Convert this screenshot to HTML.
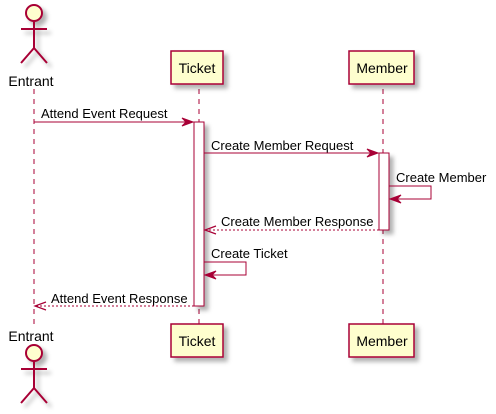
<!DOCTYPE html>
<html><head><meta charset="utf-8"><style>body{margin:0;background:#fff}svg{display:block}</style></head><body>
<svg width="496" height="414" viewBox="0 0 496 414" xmlns="http://www.w3.org/2000/svg" font-family="Liberation Sans, sans-serif" font-size="13">
<defs><filter id="sh" x="-20%" y="-20%" width="150%" height="150%"><feDropShadow dx="4" dy="4" stdDeviation="2" flood-color="#000" flood-opacity="0.3"/></filter></defs>
<g stroke="#A80036" stroke-width="1" stroke-dasharray="5,5">
<line x1="34" y1="89" x2="34" y2="324"/>
<line x1="199" y1="89" x2="199" y2="324"/>
<line x1="383" y1="89" x2="383" y2="324"/>
</g>
<g fill="#FEFECE" stroke="#A80036" stroke-width="1.5" filter="url(#sh)">
<rect x="171" y="51" width="52" height="33"/>
<rect x="349" y="51" width="65" height="33"/>
<rect x="171" y="324" width="52" height="33"/>
<rect x="349" y="324" width="65" height="33"/>
</g>
<g fill="#000" text-anchor="middle" font-size="14">
<text x="197" y="73">Ticket</text><text x="382" y="73">Member</text>
<text x="197" y="346">Ticket</text><text x="382" y="346">Member</text>
<text x="31" y="86">Entrant</text><text x="31" y="341">Entrant</text>
</g>
<g stroke="#A80036" stroke-width="2" fill="none" filter="url(#sh)">
<circle cx="34" cy="13" r="8" fill="#FEFECE"/>
<path d="M34 21V48M21 29H47M21 63L34 48L47 63"/>
<circle cx="34" cy="353" r="8" fill="#FEFECE"/>
<path d="M34 361V388M21 369H47M21 403L34 388L47 403"/>
</g>
<g fill="#fff" stroke="#A80036" stroke-width="1" filter="url(#sh)">
<rect x="194" y="122" width="10" height="184"/>
<rect x="379" y="153" width="10" height="77"/>
</g>
<g stroke="#A80036" stroke-width="1" fill="none">
<line x1="34" y1="122" x2="192" y2="122"/>
<line x1="204" y1="153" x2="377" y2="153"/>
<path d="M389 186H431V199H391"/>
<line x1="379" y1="230" x2="206" y2="230" stroke-dasharray="2,2"/>
<path d="M204 262H246V275H206"/>
<line x1="194" y1="306" x2="36" y2="306" stroke-dasharray="2,2"/>
</g>
<g fill="#A80036" stroke="#A80036">
<path d="M193 122L182 118L186 122L182 126Z"/>
<path d="M378 153L367 149L371 153L367 157Z"/>
<path d="M390 199L401 195L397 199L401 203Z"/>
<path d="M205 275L216 271L212 275L216 279Z"/>
</g>
<g stroke="#A80036" fill="none" stroke-width="1.2">
<path d="M216 226L205 230L216 234"/>
<path d="M46 302L35 306L46 310"/>
</g>
<g fill="#000" font-size="13">
<text x="41" y="118">Attend Event Request</text>
<text x="211" y="150">Create Member Request</text>
<text x="396" y="182">Create Member</text>
<text x="221" y="226">Create Member Response</text>
<text x="211" y="258">Create Ticket</text>
<text x="51" y="303">Attend Event Response</text>
</g>
</svg>
</body></html>
